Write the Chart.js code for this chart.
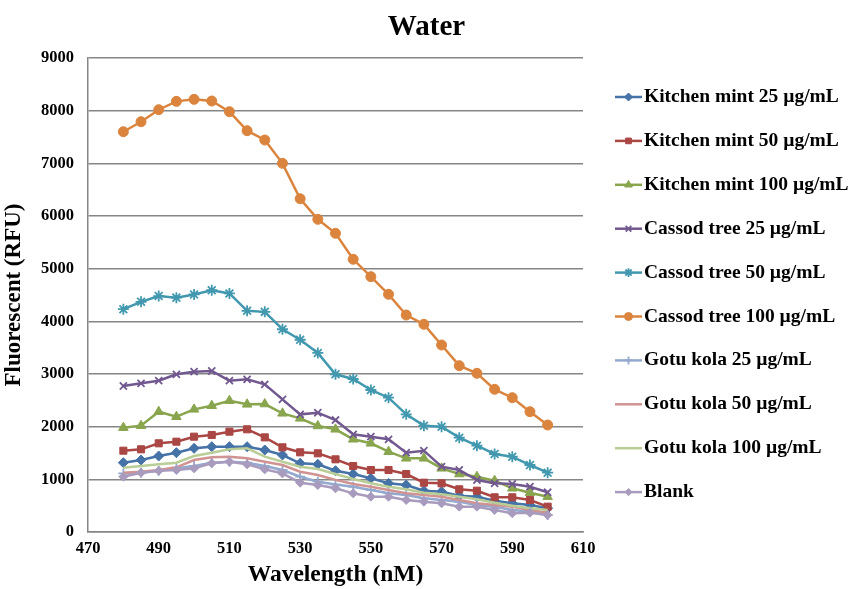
<!DOCTYPE html>
<html>
<head>
<meta charset="utf-8">
<script src="https://cdn.jsdelivr.net/npm/chart.js@4/dist/chart.umd.min.js"></script>
<style>
  html, body { margin: 0; padding: 0; background: #fff; }
  #wrap { width: 853px; height: 589px; }
</style>
</head>
<body>
<div id="wrap"><canvas id="waterChart" width="853" height="589"></canvas></div>
<script>
var wavelengths = [480, 485, 490, 495, 500, 505, 510, 515, 520, 525, 530, 535, 540, 545, 550, 555, 560, 565, 570, 575, 580, 585, 590, 595, 600];

var kitchenMint25 = [1316, 1367, 1443, 1506, 1589, 1620, 1620, 1620, 1557, 1462, 1304, 1285, 1164, 1101, 1019, 924, 892, 784, 765, 689, 670, 594, 545, 513, 450];
var kitchenMint50 = [1544, 1570, 1684, 1715, 1810, 1842, 1905, 1950, 1797, 1608, 1513, 1494, 1380, 1253, 1177, 1177, 1101, 936, 924, 811, 784, 659, 659, 608, 481];
var kitchenMint100 = [1981, 2019, 2284, 2189, 2329, 2398, 2493, 2424, 2430, 2253, 2158, 2013, 1950, 1760, 1684, 1525, 1399, 1399, 1209, 1101, 1050, 974, 830, 746, 670];
var cassod25 = [2772, 2823, 2873, 2994, 3044, 3057, 2873, 2899, 2804, 2519, 2234, 2265, 2126, 1855, 1810, 1760, 1506, 1544, 1240, 1177, 987, 924, 911, 860, 754];
var cassod50 = [4230, 4370, 4480, 4450, 4510, 4590, 4530, 4200, 4180, 3850, 3650, 3400, 2994, 2905, 2696, 2550, 2234, 2019, 2000, 1791, 1639, 1481, 1430, 1272, 1126];
var cassod100 = [7600, 7790, 8018, 8177, 8215, 8183, 7980, 7620, 7443, 7000, 6328, 5937, 5671, 5178, 4848, 4513, 4120, 3943, 3550, 3158, 3013, 2709, 2550, 2284, 2031];
var gotuKola25 = [1113, 1126, 1164, 1209, 1253, 1316, 1335, 1316, 1253, 1177, 1050, 955, 900, 860, 797, 734, 703, 639, 608, 576, 513, 481, 418, 386, 323];
var gotuKola50 = [1126, 1145, 1177, 1228, 1367, 1418, 1430, 1399, 1335, 1272, 1145, 1082, 990, 911, 860, 797, 734, 703, 670, 608, 545, 513, 481, 418, 367];
var gotuKola100 = [1221, 1253, 1285, 1316, 1443, 1506, 1570, 1589, 1430, 1335, 1240, 1196, 1100, 1006, 924, 860, 811, 746, 715, 670, 620, 556, 500, 450, 418];
var blank = [1050, 1126, 1164, 1177, 1209, 1304, 1335, 1285, 1190, 1113, 936, 892, 830, 734, 670, 670, 608, 576, 545, 481, 481, 418, 355, 367, 323];

var seriesLabels = ['Kitchen mint 25 \u00b5g/mL', 'Kitchen mint 50 \u00b5g/mL', 'Kitchen mint 100 \u00b5g/mL',
     'Cassod tree 25 \u00b5g/mL', 'Cassod tree 50 \u00b5g/mL', 'Cassod tree 100 \u00b5g/mL',
     'Gotu kola 25 \u00b5g/mL', 'Gotu kola 50 \u00b5g/mL', 'Gotu kola 100 \u00b5g/mL', 'Blank'];
var seriesValues = [kitchenMint25, kitchenMint50, kitchenMint100, cassod25, cassod50, cassod100,
     gotuKola25, gotuKola50, gotuKola100, blank];

var colors = ['#4572A7', '#AA4643', '#89A54E', '#71588F', '#4198AF', '#DB843D', '#93A9CF', '#D19392', '#B9CD96', '#A99BBD'];
var markers = ['rectRot', 'rect', 'triangle', 'crossRot', 'star', 'circle', 'cross', false, false, 'rectRot'];
var radii = [5, 5, 5.5, 5, 5.5, 5, 5, 0, 0, 4.5];

var fontFamily = '"Liberation Serif", "Times New Roman", serif';

function toPoints(values) {
     return values.map(function (v, i) { return { x: wavelengths[i], y: v }; });
}

var datasets = seriesValues.map(function (values, i) {
     return {
          label: seriesLabels[i],
          data: toPoints(values),
          borderColor: colors[i],
          backgroundColor: colors[i],
          borderWidth: 2.5,
          pointStyle: markers[i],
          pointRadius: radii[i],
          pointBorderWidth: (markers[i] === 'crossRot' || markers[i] === 'star' || markers[i] === 'cross') ? 1.8 : 1,
          pointHoverRadius: radii[i],
          tension: 0,
          fill: false,
          order: 10 - i
     };
});

// title centred on the whole canvas + Excel-style legend (line with marker in the middle)
var sideLegend = {
     id: 'sideLegend',
     afterDraw: function (chart) {
          var ctx = chart.ctx;
          ctx.save();
          ctx.fillStyle = '#000';
          ctx.font = 'bold 29px ' + fontFamily;
          ctx.textAlign = 'center';
          ctx.textBaseline = 'middle';
          ctx.fillText('Water', chart.width / 2, 28);

          var x0 = 615, x1 = 642, textX = 644, y0 = 97, step = 43.9;
          chart.data.datasets.forEach(function (ds, i) {
               var y = y0 + i * step;
               ctx.strokeStyle = ds.borderColor;
               ctx.lineWidth = 2.5;
               ctx.beginPath();
               ctx.moveTo(x0, y);
               ctx.lineTo(x1, y);
               ctx.stroke();
               if (ds.pointStyle) {
                    ctx.fillStyle = ds.backgroundColor;
                    ctx.strokeStyle = ds.borderColor;
                    ctx.lineWidth = ds.pointBorderWidth;
                    Chart.helpers.drawPoint(ctx, { pointStyle: ds.pointStyle, radius: ds.pointRadius * 0.8, rotation: 0, borderWidth: ds.pointBorderWidth }, (x0 + x1) / 2, y);
               }
               ctx.fillStyle = '#000';
               ctx.font = 'bold 19.5px ' + fontFamily;
               ctx.textBaseline = 'middle';
               ctx.textAlign = 'left';
               ctx.fillText(ds.label, textX, y);
          });
          ctx.restore();
     }
};

new Chart(document.getElementById('waterChart'), {
     type: 'line',
     data: { datasets: datasets },
     plugins: [sideLegend],
     options: {
          responsive: false,
          animation: false,
          layout: { padding: { left: 0, right: 270, top: 58, bottom: 0 } },
          plugins: {
               legend: { display: false },
               tooltip: { enabled: false },
               title: { display: false }
          },
          scales: {
               x: {
                    type: 'linear',
                    min: 470,
                    max: 610,
                    ticks: { stepSize: 20, color: '#000', padding: 7, font: { family: fontFamily, size: 16.5, weight: 'bold' } },
                    grid: { display: false, drawTicks: false },
                    border: { display: true, color: '#868686', width: 1.5 },
                    title: { display: true, text: 'Wavelength (nM)', color: '#000', padding: { top: 1, bottom: 0 }, font: { family: fontFamily, size: 23.5, weight: 'bold' } },
                    afterFit: function (scale) { scale.height = 57; }
               },
               y: {
                    min: 0,
                    max: 9000,
                    ticks: {
                         stepSize: 1000, color: '#000', padding: 14,
                         font: { family: fontFamily, size: 16.5, weight: 'bold' },
                         callback: function (value) { return String(value); }
                    },
                    grid: { color: '#868686', lineWidth: 1.5, drawTicks: false },
                    border: { display: true, color: '#868686', width: 1.5 },
                    title: { display: true, text: 'Fluorescent (RFU)', color: '#000', padding: { top: 0, bottom: 2 }, font: { family: fontFamily, size: 23, weight: 'bold' } },
                    afterFit: function (scale) { scale.width = 88; }
               }
          }
     }
});
</script>
</body>
</html>
